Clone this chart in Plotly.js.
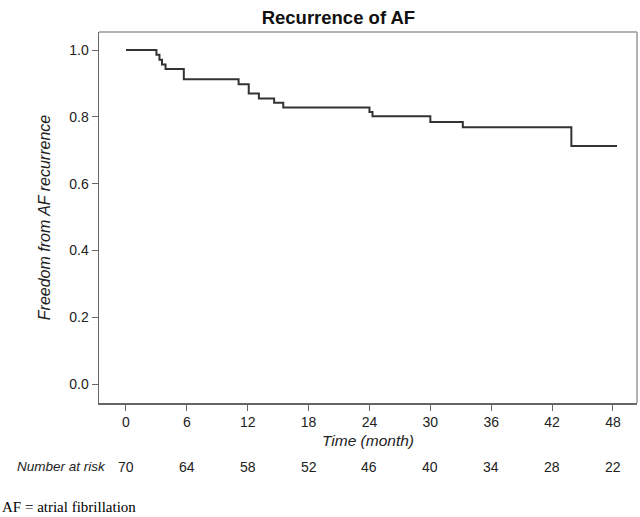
<!DOCTYPE html>
<html>
<head>
<meta charset="utf-8">
<script src="https://cdn.plot.ly/plotly-3.0.1.min.js"></script>
<style>
  html, body { margin: 0; padding: 0; background: #fff; }
  #chart { width: 640px; height: 517px; }
</style>
</head>
<body>
<div id="chart"></div>
<script>
// Kaplan-Meier step curve (time in months, survival probability)
const timeMonths = [0, 3.0, 3.3, 3.55, 3.9, 5.7, 11.1, 12.1, 13.1, 14.6, 15.5, 24.0, 24.3, 30.0, 33.2, 43.9, 48.4];
const freedom    = [1.0, 0.986, 0.971, 0.957, 0.943, 0.913, 0.898, 0.870, 0.855, 0.842, 0.828, 0.815, 0.802, 0.785, 0.769, 0.713, 0.713];

const xTicks = [0, 6, 12, 18, 24, 30, 36, 42, 48];
const yTicks = [0.0, 0.2, 0.4, 0.6, 0.8, 1.0];
const numberAtRisk = [70, 64, 58, 52, 46, 40, 34, 28, 22];

const fontFam = "Liberation Sans, Arial, sans-serif";

const trace = {
  x: timeMonths,
  y: freedom,
  type: 'scatter',
  mode: 'lines',
  line: { shape: 'hv', color: '#333333', width: 2 },
  hoverinfo: 'x+y',
  showlegend: false
};

const annotations = [];
annotations.push({
  text: '<i>Number at risk</i>',
  xref: 'paper', yref: 'paper',
  x: -0.157, y: -0.1725,
  xanchor: 'left', yanchor: 'middle',
  showarrow: false,
  font: { family: fontFam, size: 13.5, color: '#222' }
});
for (let i = 0; i < xTicks.length; i++) {
  annotations.push({
    text: String(numberAtRisk[i]),
    xref: 'x', yref: 'paper',
    x: xTicks[i], y: -0.1725,
    xanchor: 'center', yanchor: 'middle',
    showarrow: false,
    font: { family: fontFam, size: 14, color: '#222' }
  });
}
annotations.push({
  text: 'AF = atrial fibrillation',
  xref: 'paper', yref: 'paper',
  x: -0.182, y: -0.281,
  xanchor: 'left', yanchor: 'middle',
  showarrow: false,
  borderpad: 0,
  font: { family: "Liberation Serif, Times New Roman, serif", size: 15, color: '#000' }
});

const layout = {
  width: 640, height: 517,
  margin: { l: 99, r: 3, t: 32, b: 114 },
  paper_bgcolor: '#ffffff',
  plot_bgcolor: '#ffffff',
  title: {
    text: '<b>Recurrence of AF</b>',
    font: { family: fontFam, size: 18.5, color: '#111' },
    xref: 'paper', x: 0.445, xanchor: 'center',
    yref: 'container', y: 0.966, yanchor: 'middle'
  },
  xaxis: {
    range: [-2.66, 50.37],
    tickvals: xTicks,
    ticktext: xTicks.map(String),
    ticks: 'outside', ticklen: 6, tickwidth: 1, tickcolor: '#666',
    showline: true, linecolor: '#666', linewidth: 1.5,
    showgrid: false, zeroline: false,
    tickfont: { family: fontFam, size: 14, color: '#222' },
    title: { text: '<i>Time (month)</i>', font: { family: fontFam, size: 15.5, color: '#222' }, standoff: 6 },
    fixedrange: true
  },
  yaxis: {
    range: [-0.056, 1.054],
    tickvals: yTicks,
    tickformat: '.1f',
    ticks: 'outside', ticklen: 6, tickwidth: 1, tickcolor: '#666',
    showline: true, linecolor: '#666', linewidth: 1.5,
    showgrid: false, zeroline: false,
    tickfont: { family: fontFam, size: 14, color: '#222' },
    title: { text: '<i>Freedom from AF recurrence</i>', font: { family: fontFam, size: 16, color: '#222' }, standoff: 14 },
    fixedrange: true
  },
  shapes: [
    { type: 'line', xref: 'paper', yref: 'paper', x0: 0, x1: 1, y0: 1, y1: 1, line: { color: '#999', width: 1.5 } },
    { type: 'line', xref: 'paper', yref: 'paper', x0: 1, x1: 1, y0: 0, y1: 1, line: { color: '#999', width: 1.5 } }
  ],
  annotations: annotations
};

Plotly.newPlot('chart', [trace], layout, { displayModeBar: false, staticPlot: true });
</script>
</body>
</html>
